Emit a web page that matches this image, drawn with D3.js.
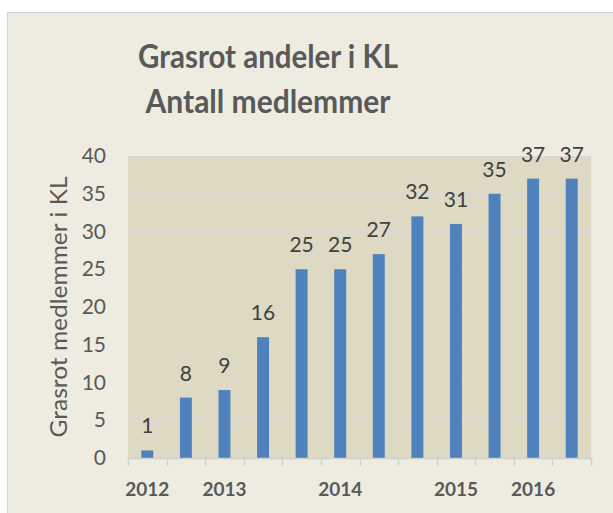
<!DOCTYPE html>
<html><head><meta charset="utf-8">
<script src="https://cdn.jsdelivr.net/npm/d3@7"></script>
<style>
html,body{margin:0;padding:0;background:#fff;}
svg{display:block;}
text{font-family:Lato,"Open Sans",sans-serif;}
</style></head>
<body>
<script>
const categories = ["c1","c2","c3","c4","c5","c6","c7","c8","c9","c10","c11","c12"];
const tickLabels = ["2012","","2013","","","2014","","","2015","","2016",""];
const values = [1,8,9,16,25,25,27,32,31,35,37,37];
const yTicks = [0,5,10,15,20,25,30,35,40];
const titleLines = ["Grasrot andeler i KL","Antall medlemmer"];
const yTitle = "Grasrot medlemmer i KL";

const W = 613, H = 513;
const svg = d3.select("body").append("svg").attr("width", W).attr("height", H);

// chart area
svg.append("rect").attr("x", 7.5).attr("y", 12.5).attr("width", W).attr("height", H)
  .attr("fill", "#EEECE1").attr("stroke", "#D4D4D4");

const plot = {left:128, right:591, top:156, bottom:458};
const x = d3.scaleBand().domain(categories).range([plot.left, plot.right]).paddingInner(0.69).paddingOuter(0.345);
const xb = d3.scaleBand().domain(categories).range([plot.left, plot.right]);
const y = d3.scaleLinear().domain([0,40]).range([plot.bottom, plot.top]);

svg.append("rect").attr("x", plot.left).attr("y", plot.top)
  .attr("width", plot.right-plot.left).attr("height", plot.bottom-plot.top).attr("fill", "#DDD9C3");

// gridlines
svg.append("g").selectAll("line").data(yTicks.filter(d=>d>0)).join("line")
  .attr("x1", plot.left).attr("x2", plot.right)
  .attr("y1", d=>Math.round(y(d))+0.5).attr("y2", d=>Math.round(y(d))+0.5)
  .attr("stroke", "#D9D9D9").attr("stroke-width", 1.2);

// bars
svg.append("g").selectAll("rect").data(values).join("rect")
  .attr("x", (d,i)=>x(categories[i]))
  .attr("width", x.bandwidth())
  .attr("y", d=>y(d))
  .attr("height", d=>y(0)-y(d))
  .attr("fill", "#4F81BD");

// data labels
svg.append("g").selectAll("text").data(values).join("text")
  .attr("x", (d,i)=>x(categories[i]) + x.bandwidth()/2)
  .attr("y", d=>y(d)-17)
  .attr("text-anchor", "middle")
  .attr("font-size", 21).attr("fill", "#404040")
  .text(d=>d);

// x axis
const xAxis = d3.axisBottom(xb).tickSize(0).tickFormat((d,i)=>tickLabels[i]);
const gx = svg.append("g").attr("transform", `translate(0,${plot.bottom})`).call(xAxis);
gx.select(".domain").attr("stroke", "#D0D0D0").attr("stroke-width", 1.5);
gx.selectAll("text").attr("font-size", 19).attr("font-weight", "bold").attr("fill", "#595959")
  .attr("font-family", "Lato, sans-serif").attr("dy", 0).attr("y", 38).attr("dominant-baseline", "auto");
// tick marks at band boundaries
const bounds = categories.map(c=>xb(c)).concat([plot.right]);
svg.append("g").selectAll("line").data(bounds).join("line")
  .attr("x1", d=>Math.round(d)+0.5).attr("x2", d=>Math.round(d)+0.5)
  .attr("y1", plot.bottom).attr("y2", plot.bottom+8)
  .attr("stroke", "#D0D0D0").attr("stroke-width", 1.5);

// y axis
const yAxis = d3.axisLeft(y).tickValues(yTicks).tickSize(0).tickPadding(22);
const gy = svg.append("g").attr("transform", `translate(${plot.left},0)`).call(yAxis);
gy.select(".domain").remove();
gy.selectAll("text").attr("font-size", 21).attr("fill", "#595959").attr("font-family", "Lato, sans-serif");

// y title
svg.append("text").attr("transform", `translate(67,${(plot.top+plot.bottom)/2}) rotate(-90)`)
  .attr("text-anchor", "middle").attr("font-size", 23).attr("fill", "#595959")
  .attr("textLength", 261).attr("lengthAdjust", "spacingAndGlyphs").text(yTitle);

// title
const titleWidths = [260, 245];
svg.append("g").selectAll("text").data(titleLines).join("text")
  .attr("x", 268).attr("y", (d,i)=>68 + i*45)
  .attr("text-anchor", "middle").attr("font-size", 32).attr("font-weight", "bold")
  .attr("textLength", (d,i)=>titleWidths[i]).attr("lengthAdjust", "spacingAndGlyphs")
  .attr("fill", "#595959").text(d=>d);
</script>
</body></html>
